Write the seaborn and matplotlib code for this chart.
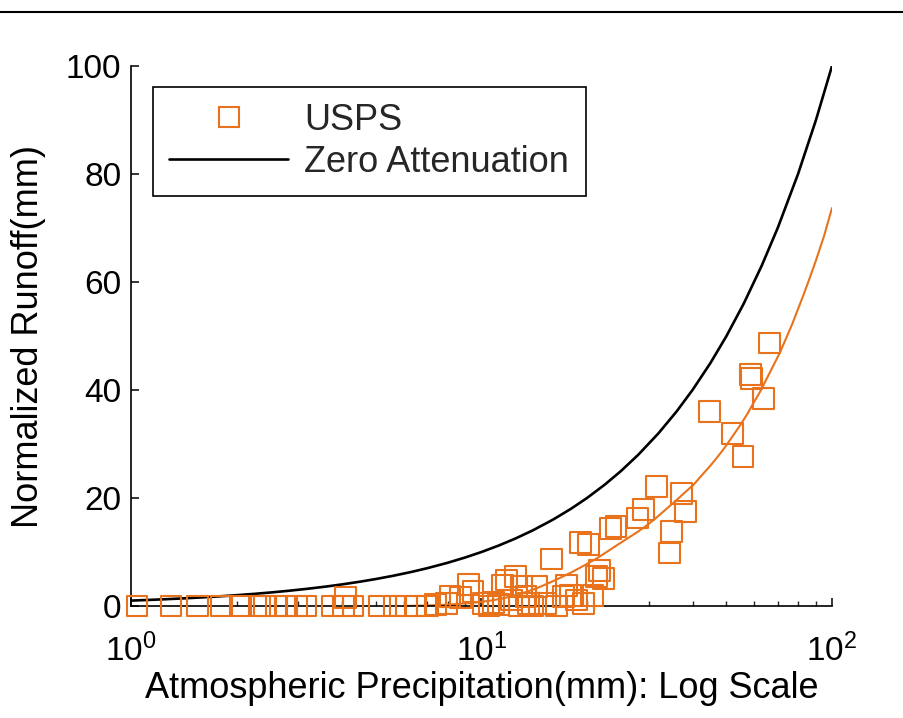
import numpy as np
import pandas as pd
import matplotlib
matplotlib.use("Agg")
import matplotlib.pyplot as plt
from matplotlib.lines import Line2D
import seaborn as sns

# ---------------- data ----------------
usps_precip = [1.04, 1.30, 1.55, 1.81, 2.05, 2.32, 2.40, 2.60, 2.78, 2.97, 3.14,
               3.75, 4.05, 4.10, 4.30, 5.13, 5.66, 6.1, 6.5, 7.0, 7.4,
               7.96, 8.13, 8.7, 9.2, 9.46, 10.1, 10.5, 10.8, 11.2, 11.5, 11.8,
               12.2, 12.5, 12.8, 13.0, 13.4, 13.6, 14.0, 14.4, 15.2, 15.8, 16.4,
               17.1, 17.5, 17.9, 18.7, 19.2, 19.5, 20.2, 20.8, 21.3, 21.7, 22.3,
               23.3, 24.2, 27.8, 29.0, 31.6, 34.4, 34.8, 37.2, 38.1, 44.8, 51.9,
               55.7, 58.4, 59.0, 63.6, 66.5]
usps_runoff = [0, 0, 0, 0, 0, 0, 0, 0, 0, 0, 0,
               0, 0, 1.5, 0, 0, 0, 0, 0, 0, 0.3,
               0.5, 1.7, 1.5, 4.0, 2.7, 0.5, 0, 0.7, 0.3, 3.9, 4.8,
               1.1, 5.4, 0, 3.6, 1.7, 0.5, 0, 3.6, 0.5, 8.7, 0,
               1.7, 3.8, 2.0, 1.1, 11.8, 0.5, 11.4, 2.0, 5.4, 6.5, 5.1,
               14.4, 14.7, 16.3, 17.8, 22.1, 9.8, 13.8, 20.9, 17.5, 36.0, 32.0,
               27.7, 42.9, 42.2, 38.5, 48.7]

fit_precip = [6, 7, 8, 9.3, 10.5, 11.5, 13, 14.4, 16, 17.9, 19.5, 21.3, 23, 24.8,
              26.5, 28, 30, 31.6, 34, 36, 38, 40.2, 42.5, 45, 47, 49, 52, 55, 57.5,
              59.7, 62.5, 65, 68, 71.1, 74, 77, 80, 82.8, 86, 90, 95, 100]
fit_runoff = [0, 0.1, 0.25, 0.55, 0.95, 1.4, 2.3, 3.3, 4.6, 6.1, 7.4, 8.8, 10.2, 11.6,
              12.8, 13.8, 15.2, 16.4, 18.2, 19.6, 21.0, 22.4, 24.2, 26.0, 27.5, 29.0,
              31.4, 33.7, 35.7, 37.6, 39.8, 42.0, 44.5, 47.0, 49.6, 52.2, 55.0, 57.5,
              60.4, 64.0, 68.6, 73.7]

zero_precip = [1, 1.12, 1.25, 1.4, 1.6, 1.8, 2, 2.25, 2.5, 2.8, 3.2, 3.6, 4, 4.5, 5,
               5.6, 6.3, 7, 8, 9, 10, 11.2, 12.5, 14, 16, 18, 20, 22.5, 25, 28, 32,
               36, 40, 45, 50, 56, 63, 70, 80, 90, 100]
zero_runoff = [1, 1.12, 1.25, 1.4, 1.6, 1.8, 2, 2.25, 2.5, 2.8, 3.2, 3.6, 4, 4.5, 5,
               5.6, 6.3, 7, 8, 9, 10, 11.2, 12.5, 14, 16, 18, 20, 22.5, 25, 28, 32,
               36, 40, 45, 50, 56, 63, 70, 80, 90, 100]

y_ticks = [0, 20, 40, 60, 80, 100]
x_ticks = [1, 10, 100]
legend_labels = ["USPS", "Zero Attenuation"]
x_label = "Atmospheric Precipitation(mm): Log Scale"
y_label = "Normalized Runoff(mm)"

# ---------------- style ----------------
sns.set_theme(style="white")
plt.rcParams["font.family"] = ["Liberation Sans", "DejaVu Sans"]
plt.rcParams["mathtext.fontset"] = "custom"
plt.rcParams["mathtext.rm"] = "Liberation Sans"
plt.rcParams["mathtext.it"] = "Liberation Sans"
plt.rcParams["mathtext.bf"] = "Liberation Sans"

ORANGE = "#E8731C"
FS = 26
TFS = 24

W, H = 904, 718
fig = plt.figure(figsize=(W / 100, H / 100), dpi=100)
left, right, top, bottom = 131, 832, 66, 606
ax = fig.add_axes([left / W, (H - bottom) / H, (right - left) / W, (bottom - top) / H])
ax.set_xscale("log")
ax.set_xlim(1, 100)
ax.set_ylim(0, 100)

sns.lineplot(x=zero_precip, y=zero_runoff, color="black", linewidth=1.9,
             estimator=None, sort=False, ax=ax)
sns.lineplot(x=fit_precip, y=fit_runoff, color=ORANGE, linewidth=1.5,
             estimator=None, sort=False, ax=ax)
sns.scatterplot(x=usps_precip, y=usps_runoff, marker="s", s=225,
                facecolors="none", edgecolor=ORANGE, linewidth=1.5,
                clip_on=False, zorder=4, ax=ax)

ax.set_xticks(x_ticks)
ax.set_yticks(y_ticks)
ax.set_yticklabels([str(v) for v in y_ticks])
ax.tick_params(axis="both", which="major", direction="in", length=6, width=1.1,
               labelsize=TFS, colors="black", pad=7)
ax.tick_params(axis="x", which="minor", direction="in", length=3.5, width=1.0)
ax.tick_params(axis="x", which="major", pad=20)
ax.tick_params(left=True, bottom=True, top=False, right=False)
ax.tick_params(axis="x", which="minor", bottom=True)

for s in ["top", "right"]:
    ax.spines[s].set_visible(False)
for s in ["left", "bottom"]:
    ax.spines[s].set_color("black")
    ax.spines[s].set_linewidth(1.2)

ax.set_xlabel(x_label, fontsize=FS, color="black", labelpad=2)
ax.set_ylabel(y_label, fontsize=FS, color="black", labelpad=14)

handles = [Line2D([], [], marker="s", linestyle="none", markerfacecolor="none",
                  markeredgecolor=ORANGE, markersize=14, markeredgewidth=1.5),
           Line2D([], [], color="black", linewidth=1.9)]
leg = ax.legend(handles, legend_labels, loc="upper left",
                bbox_to_anchor=(0.031, 0.962), borderaxespad=0, frameon=True,
                fancybox=False, edgecolor="black", fontsize=FS,
                handlelength=3.3, handletextpad=0.45, labelspacing=0.2,
                borderpad=0.45)
leg.get_frame().set_linewidth(1.2)
leg.get_frame().set_alpha(1)

fig.add_artist(Line2D([0, 1], [1 - 12 / H, 1 - 12 / H], color="black",
                      linewidth=1.5, transform=fig.transFigure))

fig.savefig("out.png", dpi=100, facecolor="white")
